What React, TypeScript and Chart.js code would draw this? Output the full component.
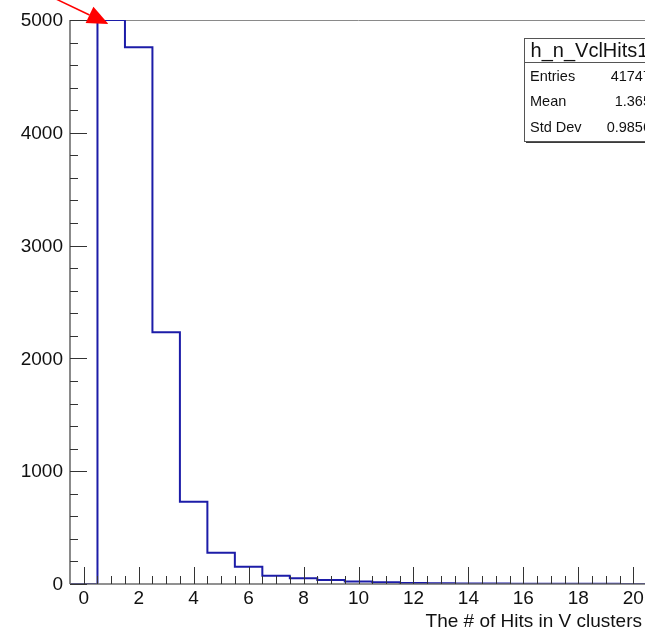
import React, { useEffect, useRef } from "react";
import { Chart, registerables } from "chart.js";

Chart.register(...registerables);

// ---- data ----
const binCenters = [0, 1, 2, 3, 4, 5, 6, 7, 8, 9, 10, 11, 12, 13, 14, 15, 16, 17, 18, 19, 20];
const counts = [0, 33400, 4758, 2231, 730, 278, 153, 74, 50, 35, 22, 15, 9, 7, 5, 4, 3, 2, 2, 3, 1];
const xTickLabels = [0, 2, 4, 6, 8, 10, 12, 14, 16, 18, 20];
const yTickLabels = [0, 1000, 2000, 3000, 4000, 5000];
const statsTitle = "h_n_VclHits1";
const statsNames = ["Entries", "Mean", "Std Dev"];
const statsValues = ["41747", "1.365", "0.9856"];
const xTitle = "The # of Hits in V clusters";

const X_MIN = -0.5;
const X_MAX = 20.5;
const Y_MIN = 0;
const Y_MAX = 5000;

const FONT = '"Liberation Sans", Arial, Helvetica, sans-serif';

const rootPlugin = {
  id: "rootDecor",
  beforeDatasetsDraw(chart: any) {
    const { ctx, chartArea } = chart;
    const { left, right, top, bottom } = chartArea;
    ctx.save();
    ctx.strokeStyle = "#8a8a8a";
    ctx.lineWidth = 1;
    ctx.beginPath();
    ctx.moveTo(left, top + 0.5);
    ctx.lineTo(right, top + 0.5);
    ctx.moveTo(right - 0.5, top);
    ctx.lineTo(right - 0.5, bottom);
    ctx.stroke();
    ctx.restore();
  },
  afterDatasetsDraw(chart: any) {
    const { ctx, chartArea, scales } = chart;
    const xs = scales.x;
    const ys = scales.y;
    const { left, right, top, bottom } = chartArea;
    ctx.save();

    // axes lines
    ctx.strokeStyle = "#6e6e6e";
    ctx.lineWidth = 1.6;
    ctx.beginPath();
    ctx.moveTo(left, top);
    ctx.lineTo(left, bottom);
    ctx.moveTo(left, bottom);
    ctx.lineTo(right, bottom);
    ctx.stroke();

    // y ticks
    ctx.strokeStyle = "#333";
    ctx.lineWidth = 1;
    for (let v = Y_MIN; v <= Y_MAX + 1e-6; v += 200) {
      const py = Math.round(ys.getPixelForValue(v)) + 0.5;
      const major = Math.abs(v % 1000) < 1e-6;
      ctx.beginPath();
      ctx.moveTo(left, py);
      ctx.lineTo(left + (major ? 17 : 8), py);
      ctx.stroke();
    }
    // x ticks
    for (let v = 0; v <= 20 + 1e-6; v += 0.5) {
      const px = Math.round(xs.getPixelForValue(v)) + 0.5;
      const major = Math.abs(v % 2) < 1e-6;
      ctx.beginPath();
      ctx.moveTo(px, bottom);
      ctx.lineTo(px, bottom - (major ? 17 : 8));
      ctx.stroke();
    }

    // tick labels
    ctx.fillStyle = "#111";
    ctx.font = `19px ${FONT}`;
    ctx.textAlign = "right";
    ctx.textBaseline = "middle";
    yTickLabels.forEach((v) => {
      ctx.fillText(String(v), left - 7, ys.getPixelForValue(v) + 1);
    });
    ctx.textAlign = "center";
    ctx.textBaseline = "middle";
    xTickLabels.forEach((v) => {
      ctx.fillText(String(v), xs.getPixelForValue(v), bottom + 15);
    });

    // axis title
    ctx.textAlign = "right";
    ctx.font = `19px ${FONT}`;
    ctx.fillText(xTitle, 642, bottom + 38);

    // stats box
    const bx = 524, by = 38, bw = 131, bh = 103;
    ctx.fillStyle = "#3a3a3a";
    ctx.fillRect(bx + 2, by + 2, bw, bh);
    ctx.fillStyle = "#ffffff";
    ctx.fillRect(bx, by, bw, bh);
    ctx.strokeStyle = "#555";
    ctx.lineWidth = 1;
    ctx.strokeRect(bx + 0.5, by + 0.5, bw, bh);
    ctx.beginPath();
    ctx.moveTo(bx, by + 24.5);
    ctx.lineTo(bx + bw, by + 24.5);
    ctx.stroke();

    ctx.fillStyle = "#111";
    ctx.textAlign = "center";
    ctx.textBaseline = "middle";
    ctx.font = `20px ${FONT}`;
    ctx.fillText(statsTitle, bx + bw / 2, by + 13);
    ctx.font = `14.5px ${FONT}`;
    const rowY = [77, 102, 128];
    statsNames.forEach((n, i) => {
      ctx.textAlign = "left";
      ctx.fillText(n, bx + 6, rowY[i]);
      ctx.textAlign = "right";
      ctx.fillText(statsValues[i], bx + bw - 4, rowY[i]);
    });

    // red arrow pointing at the clipped bin
    const ax = xs.getPixelForValue(binCenters[1] - 0.5);
    const ay = ys.getPixelForValue(Y_MAX);
    const tipX = ax + 11, tipY = ay + 4;
    const dx = 0.903, dy = 0.43;
    const nx = -dy, ny = dx;
    const headL = 21, headW = 9;
    const baseX = tipX - headL * dx, baseY = tipY - headL * dy;
    ctx.strokeStyle = "#ff0000";
    ctx.lineWidth = 1.5;
    ctx.beginPath();
    ctx.moveTo(tipX - 80 * dx, tipY - 80 * dy);
    ctx.lineTo(baseX, baseY);
    ctx.stroke();
    ctx.fillStyle = "#ff0000";
    ctx.beginPath();
    ctx.moveTo(tipX, tipY);
    ctx.lineTo(baseX + headW * nx, baseY + headW * ny);
    ctx.lineTo(baseX - headW * nx, baseY - headW * ny);
    ctx.closePath();
    ctx.fill();

    ctx.restore();
  },
};

export default function App() {
  const ref = useRef<HTMLCanvasElement | null>(null);

  useEffect(() => {
    if (!ref.current) return;
    const pts: { x: number; y: number }[] = binCenters.map((c, i) => ({
      x: c - 0.5,
      y: Math.min(counts[i], Y_MAX),
    }));
    pts.push({ x: binCenters[binCenters.length - 1] + 0.5, y: Math.min(counts[counts.length - 1], Y_MAX) });

    const chart = new Chart(ref.current, {
      type: "line",
      data: {
        datasets: [
          {
            data: pts,
            stepped: "before",
            borderColor: "#1c1ca8",
            borderWidth: 2,
            pointRadius: 0,
            fill: false,
            tension: 0,
          },
        ],
      },
      options: {
        animation: false,
        responsive: false,
        events: [],
        layout: { padding: { left: 70, top: 20, right: 13, bottom: 48 } },
        plugins: { legend: { display: false }, tooltip: { enabled: false } },
        scales: {
          x: { type: "linear", min: X_MIN, max: X_MAX, display: false },
          y: { type: "linear", min: Y_MIN, max: Y_MAX, display: false },
        },
      },
      plugins: [rootPlugin],
    });
    return () => chart.destroy();
  }, []);

  return (
    <div
      style={{
        position: "fixed",
        left: 0,
        top: 0,
        width: 645,
        height: 632,
        overflow: "hidden",
        background: "#ffffff",
      }}
    >
      <canvas ref={ref} width={660} height={632} style={{ width: 660, height: 632, display: "block" }} />
    </div>
  );
}
